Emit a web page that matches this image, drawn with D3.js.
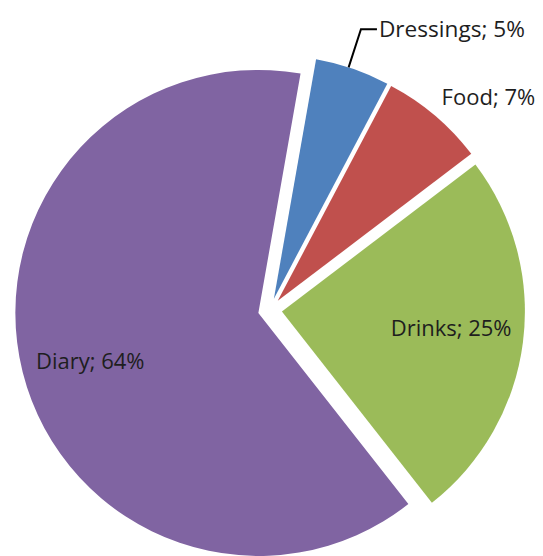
<!DOCTYPE html>
<html>
<head>
<meta charset="utf-8">
<script src="https://cdn.jsdelivr.net/npm/d3@7"></script>
<style>
  html, body { margin: 0; padding: 0; background: #fff; }
  svg { display: block; }
</style>
</head>
<body>
<div id="chart"></div>
<script>
// --- Data ---
const categories = ["Dressings", "Food", "Drinks", "Diary"];
const shares = [5, 7, 25, 64];
const sliceColors = ["#4F81BD", "#C0504D", "#9BBB59", "#8064A2"];

// --- Setup ---
const width = 543;
const height = 556;
const cx = 270, cy = 310;
const radius = 243;
const explode = 12;
const deg = Math.PI / 180;

const svg = d3.select("#chart")
  .append("svg")
  .attr("width", width)
  .attr("height", height);

const data = categories.map((c, i) => ({ name: c, value: shares[i], color: sliceColors[i] }));

const pie = d3.pie()
  .sort(null)
  .value(d => d.value)
  .startAngle(10 * deg)
  .endAngle(370 * deg);

const arcs = pie(data);
const arc = d3.arc().innerRadius(0).outerRadius(radius);

// offset of an exploded slice along its bisector
function shift(d) {
  const mid = (d.startAngle + d.endAngle) / 2;
  return [cx + explode * Math.sin(mid), cy - explode * Math.cos(mid)];
}
function polar(d, r, angle) {
  const [x, y] = shift(d);
  return [x + r * Math.sin(angle), y - r * Math.cos(angle)];
}

// --- Slices ---
svg.selectAll(".slice")
  .data(arcs)
  .enter()
  .append("path")
  .attr("class", "slice")
  .attr("transform", d => `translate(${shift(d)})`)
  .attr("d", arc)
  .attr("fill", d => d.data.color);

// --- Labels ---
// how each label sits: inside along the bisector, outside, or with a leader line
const labelPlacement = {
  Dressings: { mode: "leader", elbow: 1.165, angleShift: -1 },
  Food: { mode: "outside", r: 1.205, angleShift: 5.7 },
  Drinks: { mode: "inside", r: 0.70, angleShift: -1.5 },
  Diary: { mode: "inside", r: 0.72, angleShift: -2 }
};

const labels = svg.append("g")
  .attr("font-family", "'Open Sans', 'Noto Sans', sans-serif")
  .attr("font-size", "22px")
  .attr("fill", "#1e1e1e");

arcs.forEach(d => {
  const p = labelPlacement[d.data.name];
  const mid = (d.startAngle + d.endAngle) / 2 + p.angleShift * deg;
  const text = `${d.data.name}; ${d.data.value}%`;

  if (p.mode === "leader") {
    const start = polar(d, radius, mid);
    const elbow = polar(d, radius * p.elbow, mid);
    const end = [elbow[0] + 16, elbow[1]];
    svg.append("polyline")
      .attr("points", [start, elbow, end].map(q => q.join(",")).join(" "))
      .attr("fill", "none")
      .attr("stroke", "#000")
      .attr("stroke-width", 2);
    labels.append("text")
      .attr("x", end[0] + 2)
      .attr("y", end[1])
      .attr("dy", "0.35em")
      .attr("text-anchor", "start")
      .attr("textLength", 146)
      .attr("lengthAdjust", "spacingAndGlyphs")
      .text(text);
  } else {
    const [x, y] = polar(d, radius * p.r, mid);
    labels.append("text")
      .attr("x", x)
      .attr("y", y)
      .attr("dy", "0.35em")
      .attr("text-anchor", "middle")
      .text(text);
  }
});
</script>
</body>
</html>
